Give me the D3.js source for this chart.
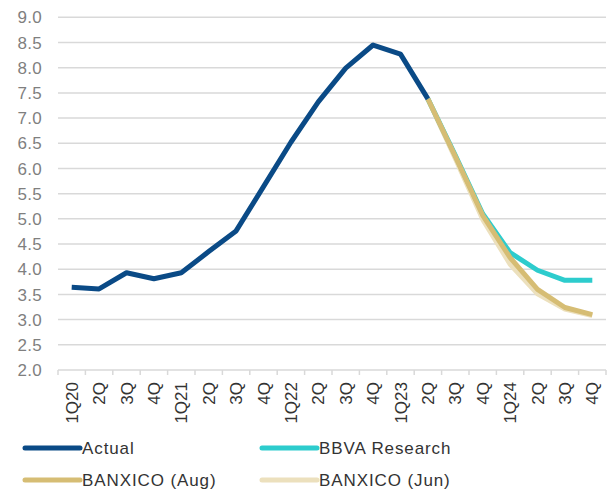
<!DOCTYPE html>
<html>
<head>
<meta charset="utf-8">
<script src="https://cdn.jsdelivr.net/npm/d3@7"></script>
<style>
  html, body { margin: 0; padding: 0; background: #fff; }
  svg text { font-family: "Liberation Sans", Arial, sans-serif; }
</style>
</head>
<body>
<svg id="chart" width="612" height="492"></svg>
<script>
'use strict';

// quarters, 1Q20 .. 4Q24
var quarters = ['1Q20', '2Q20', '3Q20', '4Q20', '1Q21', '2Q21', '3Q21', '4Q21',
  '1Q22', '2Q22', '3Q22', '4Q22', '1Q23', '2Q23', '3Q23', '4Q23',
  '1Q24', '2Q24', '3Q24', '4Q24'];
var tickLabels = ['1Q20', '2Q', '3Q', '4Q', '1Q21', '2Q', '3Q', '4Q',
  '1Q22', '2Q', '3Q', '4Q', '1Q23', '2Q', '3Q', '4Q',
  '1Q24', '2Q', '3Q', '4Q'];
var yTicks = [2.0, 2.5, 3.0, 3.5, 4.0, 4.5, 5.0, 5.5, 6.0, 6.5, 7.0, 7.5, 8.0, 8.5, 9.0];

var actual = [3.64, 3.61, 3.93, 3.81, 3.93, 4.35, 4.76, 5.64, 6.52, 7.32,
  7.99, 8.45, 8.27, 7.38];
// forecasts start at 2Q23
var forecastQuarters = ['2Q23', '3Q23', '4Q23', '1Q24', '2Q24', '3Q24', '4Q24'];
var bbva = [7.38, 6.26, 5.10, 4.33, 3.98, 3.78, 3.78];
var banxicoAug = [7.38, 6.24, 5.07, 4.23, 3.60, 3.24, 3.10];
var banxicoJun = [7.38, 6.20, 4.99, 4.10, 3.51, 3.21, 3.08];

var colors = {
  actual: '#0a4a86',
  bbva: '#2dcccd',
  aug: '#d6bd74',
  jun: '#ece0bd',
  grid: '#d9d9d9',
  yText: '#7f7f7f',
  text: '#333333'
};

var svg = d3.select('#chart');

var x = d3.scaleBand().domain(quarters).range([58, 606]).padding(0);
var y = d3.scaleLinear().domain([2, 9]).range([370, 17.3]);

function cx(q) { return x(q) + x.bandwidth() / 2; }

// gridlines
svg.append('g')
  .selectAll('line')
  .data(yTicks.slice(1))
  .enter().append('line')
  .attr('x1', 58).attr('x2', 606)
  .attr('y1', function(d) { return y(d); })
  .attr('y2', function(d) { return y(d); })
  .attr('stroke', colors.grid)
  .attr('stroke-width', 1.5);

// y axis labels
svg.append('g')
  .selectAll('text')
  .data(yTicks)
  .enter().append('text')
  .attr('x', 42)
  .attr('y', function(d) { return y(d); })
  .attr('dy', '0.36em')
  .attr('text-anchor', 'end')
  .attr('fill', colors.yText)
  .style('font-size', '17px')
  .style('letter-spacing', '0.3px')
  .text(function(d) { return d.toFixed(1); });

// x axis with ticks between categories
var xAxis = svg.append('g').attr('transform', 'translate(0,' + y(2) + ')');
xAxis.append('line')
  .attr('x1', 58).attr('x2', 606)
  .attr('stroke', colors.grid).attr('stroke-width', 1.5);
xAxis.selectAll('line.tick')
  .data(d3.range(quarters.length + 1))
  .enter().append('line')
  .attr('class', 'tick')
  .attr('x1', function(i) { return 58 + i * x.bandwidth(); })
  .attr('x2', function(i) { return 58 + i * x.bandwidth(); })
  .attr('y1', 0).attr('y2', 5)
  .attr('stroke', colors.grid).attr('stroke-width', 1.5);
xAxis.selectAll('text')
  .data(quarters)
  .enter().append('text')
  .attr('transform', function(q) {
    return 'translate(' + cx(q) + ',12) rotate(-90)';
  })
  .attr('dy', '0.36em')
  .attr('text-anchor', 'end')
  .attr('fill', colors.text)
  .style('font-size', '17px')
  .text(function(q, i) { return tickLabels[i]; });

var line = d3.line()
  .x(function(d) { return cx(d.q); })
  .y(function(d) { return y(d.v); });

function pairs(qs, vals) {
  return vals.map(function(v, i) { return { q: qs[i], v: v }; });
}

var series = [
  { key: 'jun', data: pairs(forecastQuarters, banxicoJun) },
  { key: 'bbva', data: pairs(forecastQuarters, bbva) },
  { key: 'aug', data: pairs(forecastQuarters, banxicoAug) },
  { key: 'actual', data: pairs(quarters, actual) }
];

svg.append('g')
  .selectAll('path')
  .data(series)
  .enter().append('path')
  .attr('d', function(s) { return line(s.data); })
  .attr('fill', 'none')
  .attr('stroke', function(s) { return colors[s.key]; })
  .attr('stroke-width', 5)
  .attr('stroke-linejoin', 'round');

// legend
var legendItems = [
  { key: 'actual', label: 'Actual', x: 25, y: 448 },
  { key: 'bbva', label: 'BBVA Research', x: 262, y: 448 },
  { key: 'aug', label: 'BANXICO (Aug)', x: 25, y: 480 },
  { key: 'jun', label: 'BANXICO (Jun)', x: 262, y: 480 }
];
var legend = svg.append('g')
  .selectAll('g')
  .data(legendItems)
  .enter().append('g')
  .attr('transform', function(d) { return 'translate(' + d.x + ',' + d.y + ')'; });
legend.append('line')
  .attr('x1', 0).attr('x2', 55)
  .attr('stroke', function(d) { return colors[d.key]; })
  .attr('stroke-width', 5)
  .attr('stroke-linecap', 'round');
legend.append('text')
  .attr('x', 57)
  .attr('dy', '0.36em')
  .attr('fill', colors.text)
  .style('font-size', '17px')
  .style('letter-spacing', '0.9px')
  .text(function(d) { return d.label; });
</script>
</body>
</html>
